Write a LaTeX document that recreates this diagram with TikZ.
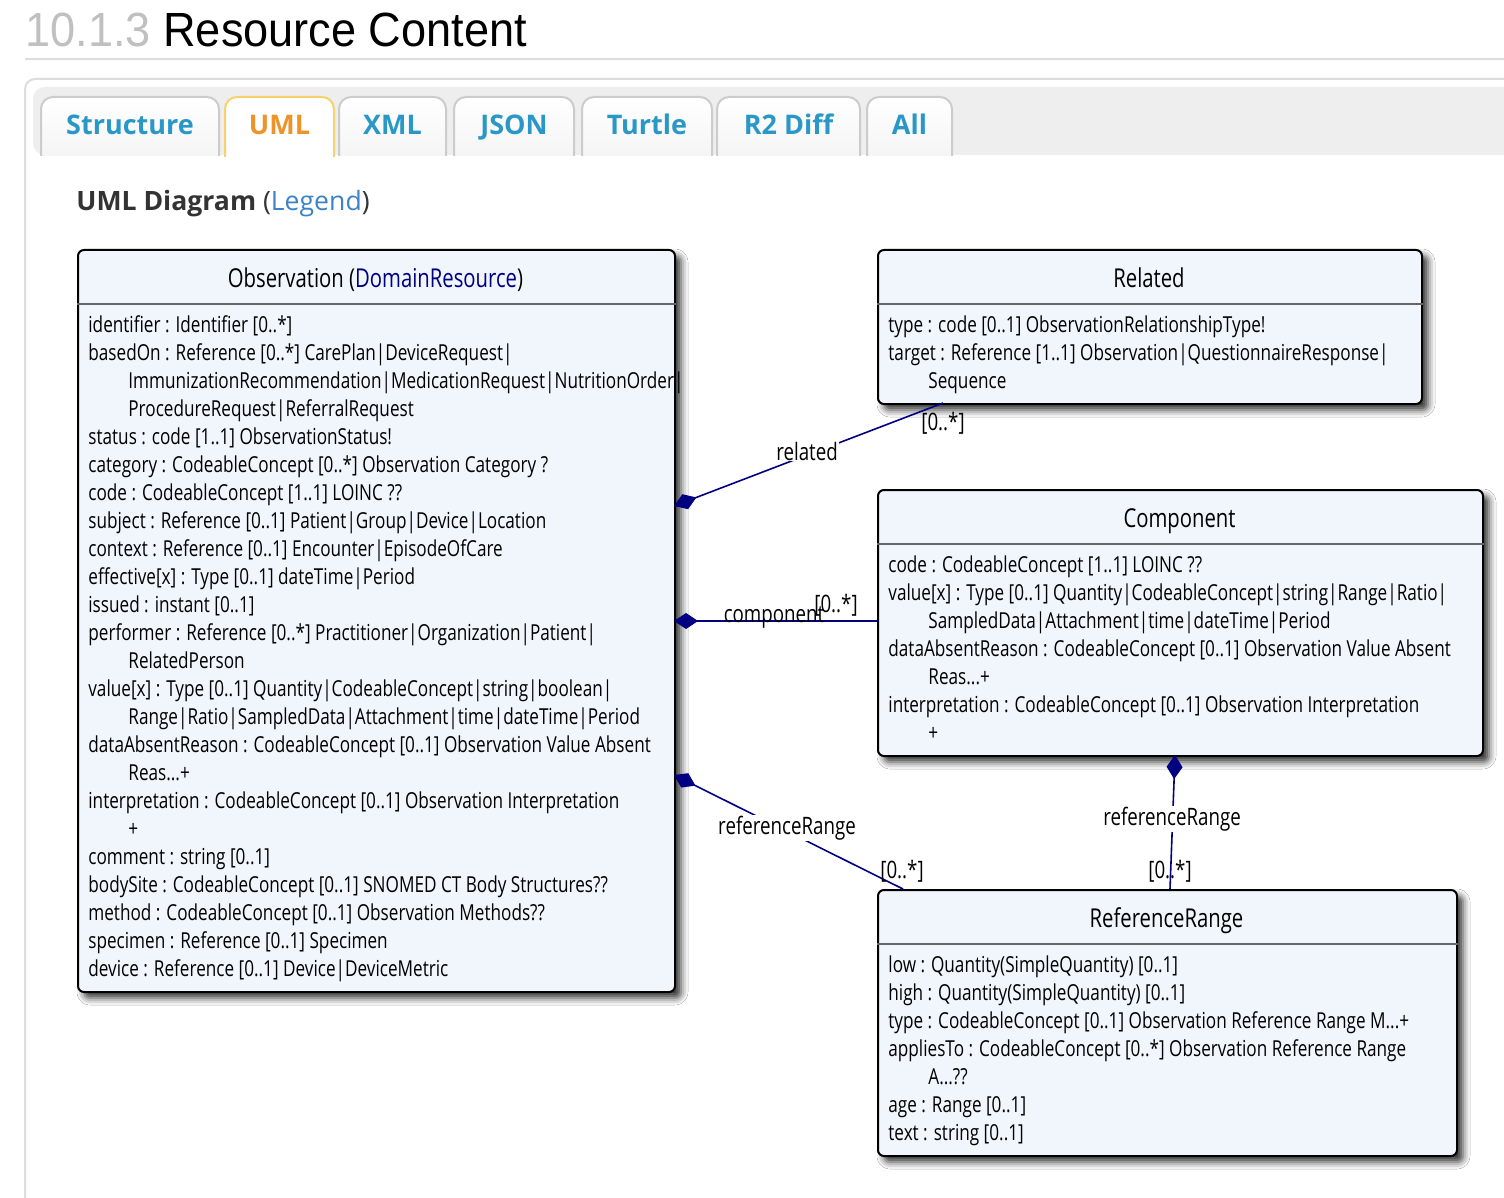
\documentclass[tikz,border=0pt]{standalone}
\usepackage{fontspec}
\setmainfont{Open Sans}
\newfontfamily\umlfont[FakeStretch=0.78]{Open Sans}
\newfontfamily\headfont[FakeStretch=0.94]{Liberation Sans}
\newfontfamily\tabfont{Open Sans}
\usetikzlibrary{arrows.meta,shadows.blur}
\definecolor{navyc}{RGB}{0,0,128}
\definecolor{umlfill}{RGB}{240,246,252}
\definecolor{tabblue}{RGB}{42,152,199}
\definecolor{taborange}{RGB}{238,146,42}
\definecolor{legendblue}{RGB}{60,130,200}
\definecolor{headgray}{RGB}{192,192,192}
\definecolor{rulegray}{RGB}{221,221,221}
\definecolor{barbg}{RGB}{238,238,238}
\definecolor{tabborder}{RGB}{204,204,204}
\definecolor{umltabborder}{RGB}{245,210,110}
\definecolor{darktext}{RGB}{51,51,51}
\begin{document}
\begin{tikzpicture}[x=0.5pt,y=-0.5pt,
  umlbox/.style={draw=black, line width=1pt, fill=umlfill, rounded corners=3pt, inner sep=0, anchor=north west,
    blur shadow={shadow xshift=3pt,shadow yshift=-3pt,shadow blur radius=3.5pt,shadow opacity=80}},
  sepline/.style={draw=black!60, line width=1pt},
  umltitle/.style={font=\umlfont\fontsize{13}{16}\selectfont, anchor=base, inner sep=0},
  attr/.style={font=\umlfont\fontsize{11}{14}\selectfont, anchor=base west, inner sep=0},
  assoc/.style={draw=navyc, line width=0.8pt},
  comp/.style={assoc, arrows={Diamond[length=12pt,width=8pt]-}},
  rolelabel/.style={font=\umlfont\fontsize{12}{14}\selectfont, text=black, fill=white, inner sep=0.5pt},
  multlabel/.style={font=\umlfont\fontsize{12}{14}\selectfont, text=black, inner sep=0},
  tabshape/.style={draw=tabborder, line width=1pt, top color=white, bottom color=black!4, rounded corners=6pt},
  tablabel/.style={font=\tabfont\bfseries\fontsize{13.5}{16}\selectfont, text=tabblue, anchor=base, inner sep=0},
]
\useasboundingbox (0,0) rectangle (1504,1198);
\fill[white] (0,0) rectangle (1504,1198);
\clip (0,0) rectangle (1504,1198);

% header
\node[anchor=base west, inner sep=0, font=\headfont\fontsize{24}{28}\selectfont] (head) at (25,47)
  {\textcolor{headgray}{10.1.3} Resource Content};
\draw[rulegray, line width=1pt] (25,59) -- (1510,59);

% panel
\draw[rulegray, line width=1pt, rounded corners=5pt] (25,1220) -- (25,79) -- (1530,79);
\fill[barbg, rounded corners=6pt] (33,87) rectangle (1530,155);

% tabs
\foreach \xa/\xb/\lab [count=\k] in {41/219/Structure, 339/446/XML, 454/574/JSON, 582/712/Turtle, 717/860/R2 Diff, 867/952/All}{
  \draw[tabshape] (\xa,156) -- (\xa,97) -- (\xb,97) -- (\xb,156);
  \node[tablabel] (tab\k) at ({(\xa+\xb)/2},135) {\lab};
}
\fill[white] (225,140) rectangle (334,160);
\draw[draw=umltabborder, fill=white, line width=1pt, rounded corners=6pt] (225,157) -- (225,97) -- (334,97) -- (334,157);
\node[tablabel, text=taborange] (tabuml) at (279.5,135) {UML};

\node[anchor=base west, inner sep=0, font=\tabfont\fontsize{13.3}{16}\selectfont, text=darktext] (umlhead) at (76,211)
  {{\bfseries UML Diagram} (\textcolor{legendblue}{Legend})};

% ---------- Observation ----------
\node[umlbox, minimum width=298.5pt, minimum height=371pt] (obs) at (77,249) {};
\draw[sepline] ([yshift=-27.5pt]obs.north west) -- ([yshift=-27.5pt]obs.north east);
\node[umltitle] (obst) at (375.5,287) {Observation (\textcolor{navyc}{DomainResource})};
\foreach \ind/\t [count=\i] in {
 0/{identifier : Identifier [0..*]},
 0/{basedOn : Reference [0..*] CarePlan|DeviceRequest|},
 1/{ImmunizationRecommendation|MedicationRequest|NutritionOrder|},
 1/{ProcedureRequest|ReferralRequest},
 0/{status : code [1..1] ObservationStatus!},
 0/{category : CodeableConcept [0..*] Observation Category ?},
 0/{code : CodeableConcept [1..1] LOINC ??},
 0/{subject : Reference [0..1] Patient|Group|Device|Location},
 0/{context : Reference [0..1] Encounter|EpisodeOfCare},
 0/{effective[x] : Type [0..1] dateTime|Period},
 0/{issued : instant [0..1]},
 0/{performer : Reference [0..*] Practitioner|Organization|Patient|},
 1/{RelatedPerson},
 0/{value[x] : Type [0..1] Quantity|CodeableConcept|string|boolean|},
 1/{Range|Ratio|SampledData|Attachment|time|dateTime|Period},
 0/{dataAbsentReason : CodeableConcept [0..1] Observation Value Absent},
 1/{Reas...+},
 0/{interpretation : CodeableConcept [0..1] Observation Interpretation},
 1/{+},
 0/{comment : string [0..1]},
 0/{bodySite : CodeableConcept [0..1] SNOMED CT Body Structures??},
 0/{method : CodeableConcept [0..1] Observation Methods??},
 0/{specimen : Reference [0..1] Specimen},
 0/{device : Reference [0..1] Device|DeviceMetric}}
 \node[attr] (o\i) at (88+40*\ind,304+28*\i) {\t};

% ---------- Related ----------
\node[umlbox, minimum width=272pt, minimum height=77pt] (rel) at (877,249) {};
\draw[sepline] ([yshift=-27.5pt]rel.north west) -- ([yshift=-27.5pt]rel.north east);
\node[umltitle] (relt) at (1149,287) {Related};
\foreach \ind/\t [count=\i] in {
 0/{type : code [0..1] ObservationRelationshipType!},
 0/{target : Reference [1..1] Observation|QuestionnaireResponse|},
 1/{Sequence}}
 \node[attr] (r\i) at (888+40*\ind,304+28*\i) {\t};

% ---------- Component ----------
\node[umlbox, minimum width=302.5pt, minimum height=133pt] (cmp) at (877,489) {};
\draw[sepline] ([yshift=-27.5pt]cmp.north west) -- ([yshift=-27.5pt]cmp.north east);
\node[umltitle] (cmpt) at (1179.5,527) {Component};
\foreach \ind/\t [count=\i] in {
 0/{code : CodeableConcept [1..1] LOINC ??},
 0/{value[x] : Type [0..1] Quantity|CodeableConcept|string|Range|Ratio|},
 1/{SampledData|Attachment|time|dateTime|Period},
 0/{dataAbsentReason : CodeableConcept [0..1] Observation Value Absent},
 1/{Reas...+},
 0/{interpretation : CodeableConcept [0..1] Observation Interpretation},
 1/{+}}
 \node[attr] (c\i) at (888+40*\ind,544+28*\i) {\t};

% ---------- ReferenceRange ----------
\node[umlbox, minimum width=289.5pt, minimum height=133pt] (rr) at (877,889) {};
\draw[sepline] ([yshift=-27.5pt]rr.north west) -- ([yshift=-27.5pt]rr.north east);
\node[umltitle] (rrt) at (1166.5,927) {ReferenceRange};
\foreach \ind/\t [count=\i] in {
 0/{low : Quantity(SimpleQuantity) [0..1]},
 0/{high : Quantity(SimpleQuantity) [0..1]},
 0/{type : CodeableConcept [0..1] Observation Reference Range M...+},
 0/{appliesTo : CodeableConcept [0..*] Observation Reference Range},
 1/{A...??},
 0/{age : Range [0..1]},
 0/{text : string [0..1]}}
 \node[attr] (g\i) at (888+40*\ind,944+28*\i) {\t};

% ---------- connectors ----------
\coordinate (r1a) at (674,506);
\coordinate (r1b) at (943,403);
\draw[comp] (r1a) -- (r1b);
\node[rolelabel] (r1l) at (807,451) {related};
\node[multlabel] (r1m) at (943,423) {[0..*]};

\coordinate (c1a) at (674,621);
\coordinate (c1b) at (877,621);
\draw[comp] (c1a) -- (c1b);
\node[multlabel] (c1l) at (774,617) {component};
\node[multlabel] (c1m) at (836,605) {[0..*]};

\coordinate (q1a) at (674,775);
\coordinate (q1b) at (903,889);
\draw[comp] (q1a) -- (q1b);
\node[rolelabel] (q1l) at (787,828) {referenceRange};
\node[multlabel] (q1m) at (902,871) {[0..*]};

\coordinate (q2a) at (1175,755);
\coordinate (q2b) at (1170,889);
\draw[comp] (q2a) -- (q2b);
\node[rolelabel] (q2l) at (1172,819) {referenceRange};
\node[multlabel] (q2m) at (1170,871) {[0..*]};
\end{tikzpicture}
\end{document}
